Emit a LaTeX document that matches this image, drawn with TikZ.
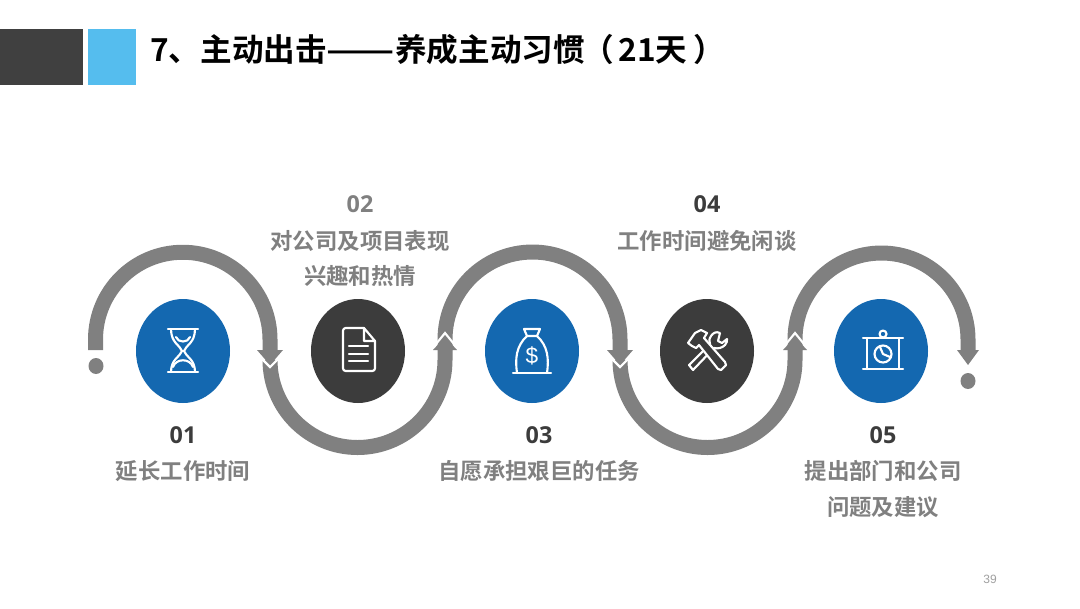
\documentclass[tikz,border=0pt]{standalone}
\usepackage{fontspec}
\setmainfont{Noto Sans CJK SC}[BoldFont={* Bold}]
\newfontfamily\cjkb{Noto Sans CJK SC Bold}
\newfontfamily\numb{Open Sans}[BoldFont={* Bold}]
\newfontfamily\lat{Liberation Sans}
\usetikzlibrary{shapes.geometric}
\definecolor{ribbon}{HTML}{808080}
\definecolor{blueball}{HTML}{1468B0}
\definecolor{darkball}{HTML}{3C3C3C}
\definecolor{sky}{HTML}{55BDEE}
\definecolor{dkbar}{HTML}{404040}
\tikzset{
 band/.style={draw=ribbon,line width=11.25pt},
 ball/.style={ellipse,minimum width=70.5pt,minimum height=78pt,inner sep=0pt},
 blueb/.style={ball,fill=blueball},
 darkb/.style={ball,fill=darkball},
 dot/.style={ellipse,fill=ribbon,minimum width=11.25pt,minimum height=12pt,inner sep=0pt},
 lab/.style={font=\cjkb\fontsize{16.8pt}{20pt}\selectfont,text=ribbon,inner sep=0pt},
 numl/.style={font=\numb\bfseries\fontsize{17.5pt}{20pt}\selectfont,inner sep=0pt},
 icon/.style={draw=white,line width=1.6pt,line join=round,line cap=round},
 chev/.style={draw=white,line width=1.6pt,line join=miter},
 hd/.style={fill=ribbon,draw=none},
}
\begin{document}
\begin{tikzpicture}[x=0.75pt,y=-0.75pt]
\useasboundingbox (0,0) rectangle (1080,608);
\fill[white] (0,0) rectangle (1080,608);
% header
\fill[dkbar] (0,29) rectangle (83,85);
\fill[sky] (88,29) rectangle (136,85);
\node[anchor=west,inner sep=0pt,font=\cjkb\fontsize{23.7pt}{28pt}\selectfont] (title) at (150,50) {7、主动出击\scalebox{1.27}[1]{——}养成主动习惯\hspace{-1.5pt}（\hspace{3pt}21天\hspace{4.5pt}）};
% ribbon coordinates
\coordinate (p0) at (95.5,350);
\coordinate (p1) at (270,350);
\coordinate (p2) at (445,350);
\coordinate (p3) at (620,350);
\coordinate (p4) at (795,350);
\coordinate (p5) at (968,350);
% ribbon arcs
\draw[band] (p0) -- ++(0,-10.5) arc[start angle=180,end angle=360,radius=87.25] -- (p1);
\draw[band] (p1) ++(0,10) arc[start angle=180,end angle=0,radius=87.5] -- (p2);
\draw[band] (p2) -- ++(0,-10.5) arc[start angle=180,end angle=360,radius=87.5] -- (p3);
\draw[band] (p3) ++(0,10) arc[start angle=180,end angle=0,radius=87.5] -- (p4);
\draw[band] (p4) -- ++(0,-10.5) arc[start angle=180,end angle=360,radius=86.5] -- (p5);
% arrowheads
\foreach \p in {p1,p3}{
  \fill[hd] (\p) ++(-13,0) -- ++(26,0) -- ++(-13,15) -- cycle;
  \draw[chev] (\p) ++(-8,9) -- ++(8,8) -- ++(8,-8);
}
\foreach \p in {p2,p4}{
  \draw[chev] (\p) ++(-9,-6) -- ++(9,-11) -- ++(9,11);
  \fill[hd] (\p) ++(-12,0) -- ++(24,0) -- ++(-12,-13) -- cycle;
}
\fill[hd] (p5) ++(-11,0) -- ++(22,0) -- ++(-11,15) -- cycle;
% dots
\node[dot] (d0) at (96,366) {};
\node[dot] (d1) at (968,381) {};
% balls
\node[blueb] (b1) at (183,351) {};
\node[darkb] (b2) at (358,351) {};
\node[blueb] (b3) at (532,351) {};
\node[darkb] (b4) at (707,351) {};
\node[blueb] (b5) at (881,351) {};
% hourglass
\begin{scope}[shift={(b1.center)},icon]
\draw (-15,-22) -- (15,-22) (-15,21) -- (15,21);
\draw (-12,-22) .. controls (-12,-8) and (-3,-6) .. (-1,0) .. controls (-3,6) and (-12,8) .. (-12,21);
\draw (12,-22) .. controls (12,-8) and (3,-6) .. (1,0) .. controls (3,6) and (12,8) .. (12,21);
\draw (-7,-14) .. controls (-5,-8) and (5,-8) .. (7,-14);
\draw (-10,16) .. controls (-7,7) and (7,7) .. (10,16);
\end{scope}
% document
\begin{scope}[shift={(b2.center)},icon]
\draw[rounded corners=2pt] (6,-23) -- (-15,-23) -- (-15,20) -- (17,20) -- (17,-10);
\draw (6,-23) -- (17,-10) -- (6,-10) -- cycle;
\draw (-9,-5) -- (10,-5) (-9,3) -- (10,3) (-9,10) -- (10,10);
\end{scope}
% bag
\begin{scope}[shift={(b3.center)},icon]
\draw (-19,22) -- (19,22);
\draw (-15,22) .. controls (-17,8) and (-16,-5) .. (-5,-15) -- (5,-15) .. controls (16,-5) and (17,8) .. (15,22);
\draw (-5,-15) -- (-8,-22) -- (8,-22) -- (5,-15);
\node[font=\lat\fontsize{17pt}{20pt}\selectfont,text=white,inner sep=0pt] (dollar) at (0,5) {\$};
\end{scope}
% tools
\begin{scope}[shift={(b4.center)},icon]
\draw[fill=darkball] (-18,14) -- (-14,19) -- (7,-3) .. controls (11,-2) and (15,-3) .. (18,-6) .. controls (20,-8) and (20,-10) .. (20,-12) -- (15,-8) -- (11,-10) -- (13,-18) .. controls (9,-20) and (6,-18) .. (4,-15) .. controls (2,-12) and (2,-10) .. (3,-7) -- cycle;
\draw[fill=darkball] (-19,-8) -- (-12,-18) -- (-6,-21) -- (0,-18) -- (-3,-13) -- (18,11) -- (19,14) -- (14,19) -- (11,18) -- (-8,-6) -- (-11,-3) -- (-15,-5) -- cycle;
\end{scope}
% board
\begin{scope}[shift={(b5.center)},icon,xshift=1.5pt]
\draw (-20,-13) -- (20,-13) (-20,18) -- (20,18);
\draw (-16,-13) -- (-16,18) (16,-13) -- (16,18);
\draw (0,-17) circle[radius=3.5];
\draw (0,3) circle[radius=8.5];
\draw (-3,-4) -- (0,3) -- (7,6);
\end{scope}
% labels
\node[numl,text=darkball] (n1) at (183,435) {01};
\node[lab] (t1) at (183,471) {延长工作时间};
\node[numl,text=ribbon] (n2) at (360,204) {02};
\node[lab] (t2a) at (360,241) {对公司及项目表现};
\node[lab] (t2b) at (360,276) {兴趣和热情};
\node[numl,text=darkball] (n3) at (539,435) {03};
\node[lab] (t3) at (539,471) {自愿承担艰巨的任务};
\node[numl,text=darkball] (n4) at (707,204) {04};
\node[lab] (t4) at (707,241) {工作时间避免闲谈};
\node[numl,text=darkball] (n5) at (883,435) {05};
\node[lab] (t5a) at (883,471) {提出部门和公司};
\node[lab] (t5b) at (883,507) {问题及建议};
\node[font=\lat\fontsize{9pt}{11pt}\selectfont,text=ribbon!75,inner sep=0pt] (pg) at (990,579) {39};
\end{tikzpicture}
\end{document}
